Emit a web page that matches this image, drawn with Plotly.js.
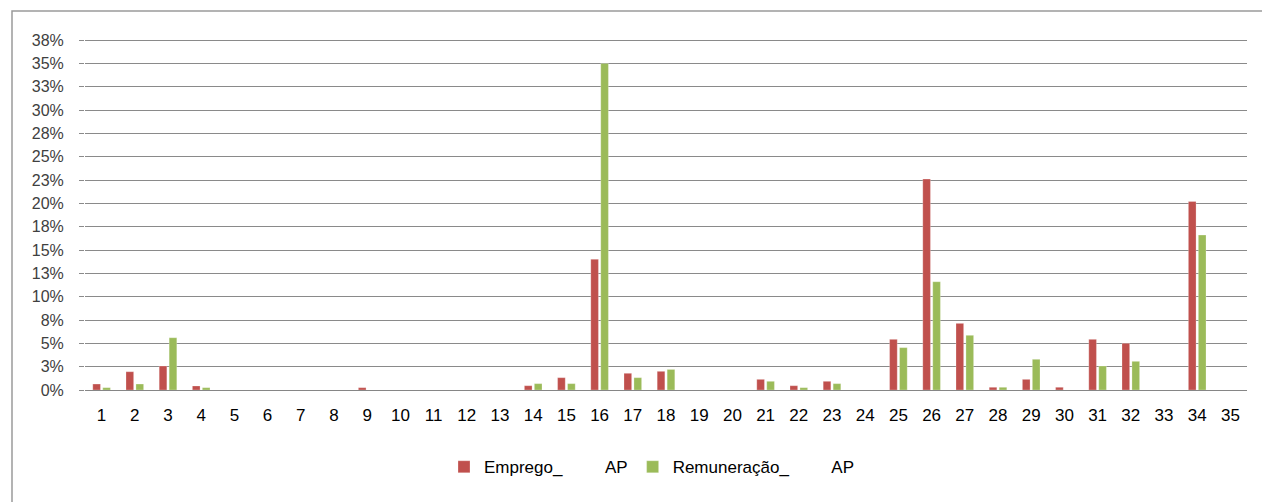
<!DOCTYPE html>
<html>
<head>
<meta charset="utf-8">
<script src="https://cdn.plot.ly/plotly-3.0.1.min.js"></script>
<style>
  html, body { margin: 0; padding: 0; background: #fff; }
  #chart { width: 1262px; height: 502px; }
</style>
</head>
<body>
<div id="chart"></div>
<script>
// Categories 1..35
const categories = ["1","2","3","4","5","6","7","8","9","10","11","12","13","14","15","16","17","18","19","20","21","22","23","24","25","26","27","28","29","30","31","32","33","34","35"];

// Emprego_ AP (%)
const emprego = [0.64, 1.96, 2.57, 0.43, 0, 0, 0, 0, 0.25, 0, 0, 0, 0, 0.46, 1.32, 14.0, 1.79, 2.0, 0, 0, 1.14, 0.46, 0.93, 0, 5.43, 22.6, 7.14, 0.29, 1.14, 0.29, 5.43, 5.0, 0, 20.2, 0];

// Remuneração_ AP (%)
const remuneracao = [0.25, 0.64, 5.6, 0.25, 0, 0, 0, 0, 0, 0, 0, 0, 0, 0.68, 0.68, 35.0, 1.32, 2.2, 0, 0, 0.93, 0.25, 0.68, 0, 4.54, 11.6, 5.86, 0.29, 3.29, 0, 2.57, 3.07, 0, 16.6, 0];

// Y tick values and labels (Excel-style rounded labels)
const yTickVals = [0, 2.5, 5, 7.5, 10, 12.5, 15, 17.5, 20, 22.5, 25, 27.5, 30, 32.5, 35, 37.5];
const yTickText = ["0%","3%","5%","8%","10%","13%","15%","18%","20%","23%","25%","28%","30%","33%","35%","38%"];

const nb = "\u00A0";
const gap = nb.repeat(9);
const seriesNames = ["Emprego_" + gap + "AP", "Remuneração_" + gap + "AP"];

const fontFam = "Liberation Sans, Arial, sans-serif";

const traces = [
  {
    type: "bar",
    name: seriesNames[0],
    x: categories,
    y: emprego,
    marker: { color: "#C0504D", line: { color: "rgba(255,255,255,0.5)", width: 0.5 } },
    hoverinfo: "skip"
  },
  {
    type: "bar",
    name: seriesNames[1],
    x: categories,
    y: remuneracao,
    marker: { color: "#9BBB59", line: { color: "rgba(255,255,255,0.5)", width: 0.5 } },
    hoverinfo: "skip"
  }
];

const plotL = 85, plotR = 1247, plotT = 40, plotB = 390;
const W = 1262, H = 502;
const pw = plotR - plotL, ph = plotB - plotT;
const yMax = yTickVals[yTickVals.length - 1];

const layout = {
  width: W,
  height: H,
  margin: { l: plotL, r: W - plotR, t: plotT - 1, b: H - plotB, pad: 0 },
  paper_bgcolor: "#ffffff",
  plot_bgcolor: "#ffffff",
  barmode: "group",
  bargap: 0.40,
  bargroupgap: 0.23,
  showlegend: true,
  legend: {
    orientation: "h",
    x: (652 - plotL) / pw,
    xanchor: "center",
    y: (plotB - 467) / ph,
    yanchor: "middle",
    font: { family: fontFam, size: 17, color: "#000000" },
    itemwidth: 30,
    tracegroupgap: 0,
    bgcolor: "rgba(0,0,0,0)"
  },
  xaxis: {
    type: "category",
    tickvals: categories,
    ticktext: categories,
    showgrid: false,
    showline: true,
    linecolor: "#868686",
    linewidth: 1,
    ticks: "",
    tickfont: { family: fontFam, size: 17, color: "#000000" },
    ticklabelstandoff: 10,
    fixedrange: true
  },
  yaxis: {
    range: [0, yMax * 1.003],
    tickvals: yTickVals,
    ticktext: yTickText,
    showgrid: true,
    gridcolor: "#8a8a8a",
    gridwidth: 1,
    zeroline: false,
    showline: false,
    ticks: "outside",
    ticklen: 5,
    tickcolor: "#8a8a8a",
    tickfont: { family: fontFam, size: 16, color: "#404040" },
    ticklabelstandoff: 12,
    fixedrange: true
  },
  shapes: [
    {
      type: "rect",
      xref: "paper",
      yref: "paper",
      x0: (12 - plotL) / pw,
      x1: (W + 20 - plotL) / pw,
      y0: (plotB - (H + 20)) / ph,
      y1: (plotB - 12) / ph,
      line: { color: "#9a9a9a", width: 1.5 },
      fillcolor: "rgba(0,0,0,0)",
      layer: "below"
    }
  ]
};

Plotly.newPlot("chart", traces, layout, { displayModeBar: false, staticPlot: true });
</script>
</body>
</html>
